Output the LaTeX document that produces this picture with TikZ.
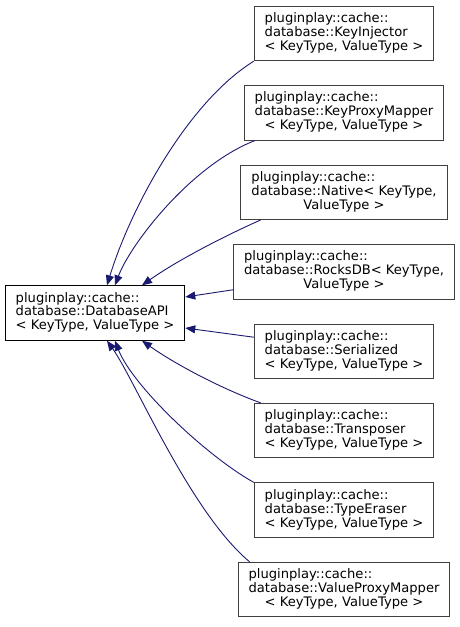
\documentclass[tikz,border=0pt]{standalone}
\usepackage{fontspec}
\setmainfont{DejaVu Sans}
\usepackage{xcolor}
\usepackage{tikz}
\usetikzlibrary{arrows.meta,positioning}
\definecolor{edgeblue}{RGB}{25,25,112}
\newcommand{\dbcls}[3]{\begin{tabular}{@{}l@{}}#1\\#2\\\multicolumn{1}{@{}c@{}}{#3}\end{tabular}}

\begin{document}
\begin{tikzpicture}[x=1pt, y=-1pt,
    font=\fontsize{13.1}{13.3}\selectfont,
    cls/.style={draw=black!75, line width=1pt, fill=white, inner xsep=10.5pt, inner ysep=6.3pt},
    edge/.style={draw=edgeblue, line width=0.9pt, -{Triangle[length=10pt,width=8pt]}}]
  \useasboundingbox (0,0) rectangle (460,627);

  % base class
  \node[cls, draw=black] (base) at (95,313) {\dbcls{pluginplay::cache::}{database::DatabaseAPI}{< KeyType, ValueType >}};

  % derived classes
  \node[cls] (inj) at (344,33.5) {\dbcls{pluginplay::cache::}{database::KeyInjector}{< KeyType, ValueType >}};
  \node[cls, below=24pt of inj] (kpm) {\dbcls{pluginplay::cache::}{database::KeyProxyMapper}{< KeyType, ValueType >}};
  \node[cls, below=24pt of kpm] (nat) {\dbcls{pluginplay::cache::}{database::Native< KeyType,}{ValueType >}};
  \node[cls, below=24pt of nat] (rdb) {\dbcls{pluginplay::cache::}{database::RocksDB< KeyType,}{ValueType >}};
  \node[cls, below=24pt of rdb] (ser) {\dbcls{pluginplay::cache::}{database::Serialized}{< KeyType, ValueType >}};
  \node[cls, below=24pt of ser] (trp) {\dbcls{pluginplay::cache::}{database::Transposer}{< KeyType, ValueType >}};
  \node[cls, below=24pt of trp] (ter) {\dbcls{pluginplay::cache::}{database::TypeEraser}{< KeyType, ValueType >}};
  \node[cls, below=24pt of ter] (vpm) {\dbcls{pluginplay::cache::}{database::ValueProxyMapper}{< KeyType, ValueType >}};

  % inheritance edges
  \draw[edge] (inj.south west) .. controls (188,102) and (131,207) .. ([xshift=12pt]base.north);
  \draw[edge] ([xshift=11pt]kpm.south west) .. controls (190,166) and (130,245) .. ([xshift=20pt]base.north);
  \draw[edge] ([xshift=20pt]nat.south west) .. controls (220,238) and (175,262) .. ([xshift=47pt]base.north);
  \draw[edge] ([yshift=-18pt]rdb.west) -- ([yshift=16pt]base.east);
  \draw[edge] ([yshift=14pt]ser.west) -- ([yshift=-15pt]base.east);
  \draw[edge] ([xshift=7pt]trp.north west) .. controls (220,388) and (175,364) .. ([xshift=47pt]base.south);
  \draw[edge] (ter.north west) .. controls (205,455) and (132,385) .. ([xshift=20pt]base.south);
  \draw[edge] ([xshift=12pt]vpm.north west) .. controls (190,512) and (135,380) .. ([xshift=12pt]base.south);
\end{tikzpicture}
\end{document}
